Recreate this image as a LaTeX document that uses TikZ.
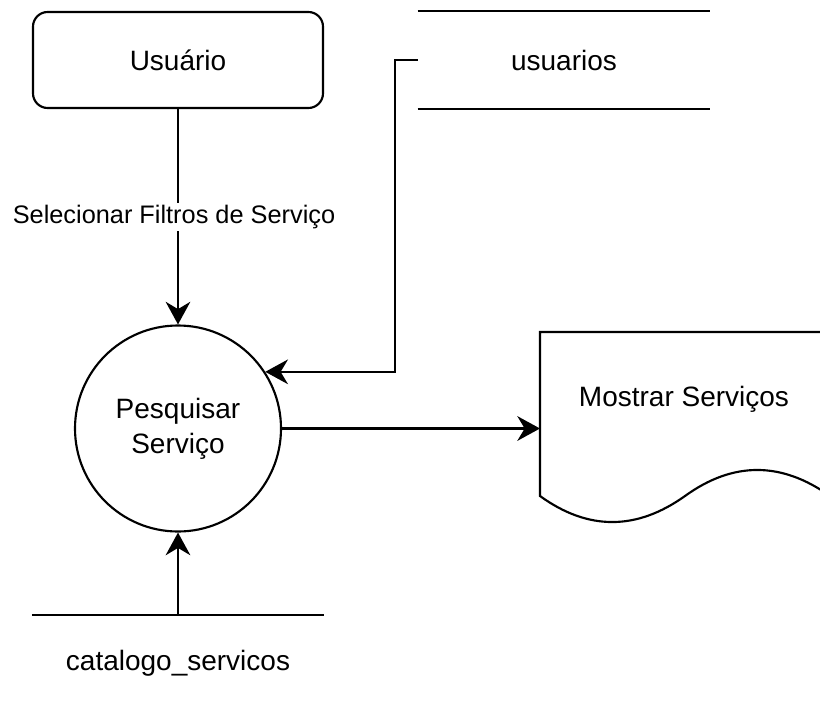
\documentclass[tikz,border=0pt]{standalone}
\usepackage{fontspec}
\setmainfont{Liberation Sans}
\usetikzlibrary{arrows.meta}
\tikzset{every picture/.style={line width=1.6pt}}
\tikzset{
  flow/.style={-{Stealth[length=17pt,width=18.5pt,inset=5.5pt]}},
  vtext/.style={font=\fontsize{21}{26}\selectfont, inner sep=0.75pt, align=center},
  etext/.style={font=\fontsize{19}{23}\selectfont, inner sep=1.5pt, fill=white},
  store/.style={vtext, minimum width=218pt, minimum height=72pt}
}

\begin{document}
\begin{tikzpicture}[x=0.75pt,y=0.75pt,yscale=-1,xscale=1]
\useasboundingbox (0,0) rectangle (820,710);

%Shape: Rounded Rect
\node (usuario) [vtext, draw, rounded corners=11pt, minimum width=217.5pt, minimum height=72pt] at (178,60) {Usuário};
%Shape: Circle
\node (proc) [vtext, draw, circle, inner sep=0pt, minimum size=154.5pt] at (178,428.5) {Pesquisar\\Serviço};
%Shape: Data Store
\node (usuarios) [store] at (564,60) {usuarios};
\draw (usuarios.north west) -- (usuarios.north east) ;
\draw (usuarios.south west) -- (usuarios.south east) ;
%Shape: Data Store
\node (catalogo) [store, minimum width=217.5pt, minimum height=70.5pt] at (178,663) {catalogo\_servicos};
\draw (catalogo.north west) -- (catalogo.north east) ;
%Shape: Document
\draw (540,332) -- (830,332) -- (830,496) .. controls (781.3,461.3) and (733,461.3) .. (685,496) .. controls (636.3,530.7) and (588,530.7) .. (540,496) -- cycle ;
\coordinate (doc) at (540,428.5);
% Text Node
\node (mostrar) [vtext] at (684,399) {Mostrar Serviços};

%Straight Lines
\draw [flow] (usuario) -- (proc) node [etext, midway, xshift=-3pt] {Selecionar Filtros de Serviço};
%Straight Lines
\coordinate (bend) at (395,60);
\draw [flow] (usuarios.west) -- (bend) |- (proc.33) ;
%Straight Lines
\draw [flow] (proc.east) -- (doc) ;
%Straight Lines
\draw [flow] (catalogo.north) -- (proc.south) ;

\end{tikzpicture}
\end{document}
